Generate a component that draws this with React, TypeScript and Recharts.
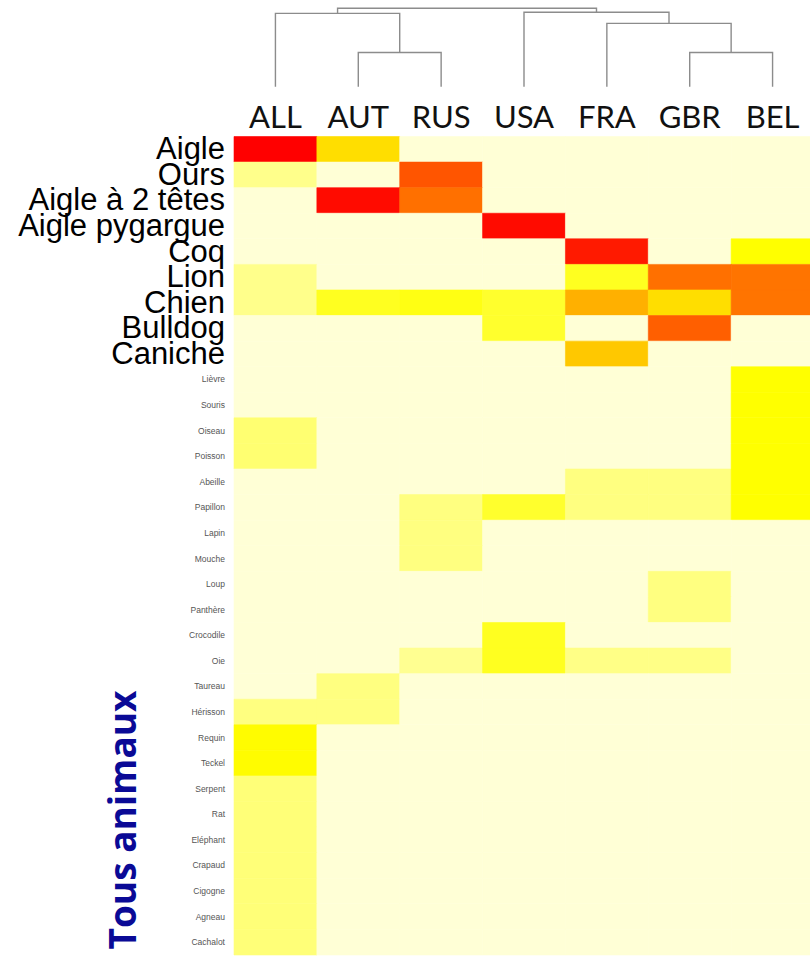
import React from 'react';
import { BarChart, Bar, Cell, XAxis, YAxis, Label, LineChart, Line } from 'recharts';

// column order as left by the clustering
const COUNTRIES = ['ALL', 'AUT', 'RUS', 'USA', 'FRA', 'GBR', 'BEL'];

const ANIMALS = [
  'Aigle', 'Ours', 'Aigle à 2 têtes', 'Aigle pygargue', 'Coq', 'Lion', 'Chien', 'Bulldog', 'Caniche',
  'Lièvre', 'Souris', 'Oiseau', 'Poisson', 'Abeille', 'Papillon', 'Lapin', 'Mouche', 'Loup',
  'Panthère', 'Crocodile', 'Oie', 'Taureau', 'Hérisson', 'Requin', 'Teckel', 'Serpent', 'Rat',
  'Eléphant', 'Crapaud', 'Cigogne', 'Agneau', 'Cachalot',
];

// the first rows are labelled in large type
const BIG_LABELS = 9;

// intensity per animal (0-100), one list per country, same order as ANIMALS
const ALL = [100, 13, 0, 0, 0, 13, 13, 0, 0, 0, 0, 17, 17, 0, 0, 0, 0, 0, 0, 0, 0, 0, 15, 34, 34, 16, 16, 16, 16, 16, 16, 16];
const AUT = [45, 0, 97, 0, 0, 0, 28, 0, 0, 0, 0, 0, 0, 0, 0, 0, 0, 0, 0, 0, 0, 15, 15, 0, 0, 0, 0, 0, 0, 0, 0, 0];
const RUS = [0, 83, 75, 0, 0, 0, 30, 0, 0, 0, 0, 0, 0, 0, 15, 15, 15, 0, 0, 0, 12, 0, 0, 0, 0, 0, 0, 0, 0, 0, 0, 0];
const USA = [0, 0, 0, 97, 0, 0, 26, 26, 0, 0, 0, 0, 0, 0, 26, 0, 0, 0, 0, 28, 28, 0, 0, 0, 0, 0, 0, 0, 0, 0, 0, 0];
const FRA = [0, 0, 0, 0, 93, 28, 60, 0, 50, 0, 0, 0, 0, 15, 15, 0, 0, 0, 0, 0, 14, 0, 0, 0, 0, 0, 0, 0, 0, 0, 0, 0];
const GBR = [0, 0, 0, 0, 0, 75, 45, 80, 0, 0, 0, 0, 0, 15, 15, 0, 0, 15, 15, 0, 14, 0, 0, 0, 0, 0, 0, 0, 0, 0, 0, 0];
const BEL = [0, 0, 0, 0, 33, 74, 74, 0, 0, 33, 33, 33, 33, 33, 33, 0, 0, 0, 0, 0, 0, 0, 0, 0, 0, 0, 0, 0, 0, 0, 0, 0];

const COLUMNS = [ALL, AUT, RUS, USA, FRA, GBR, BEL];

// dendrogram merges: left child, right child, height (n<k> = k-th merge)
const MERGE_LEFT = ['AUT', 'GBR', 'FRA', 'ALL', 'USA', 'n3'];
const MERGE_RIGHT = ['RUS', 'BEL', 'n1', 'n0', 'n2', 'n4'];
const MERGE_HEIGHT = [34, 34, 63, 73, 74, 78];

// heat palette, light cream -> yellow -> orange -> red
const STOPS: [number, number[]][] = [
  [0, [255, 255, 214]],
  [15, [255, 255, 128]],
  [25, [255, 255, 51]],
  [33, [255, 255, 0]],
  [45, [255, 222, 0]],
  [50, [255, 200, 0]],
  [60, [255, 176, 0]],
  [75, [255, 112, 0]],
  [83, [255, 85, 0]],
  [93, [255, 26, 0]],
  [100, [255, 0, 0]],
];

function heat(v: number) {
  for (let i = 1; i < STOPS.length; i++) {
    const [v1, c1] = STOPS[i];
    const [v0, c0] = STOPS[i - 1];
    if (v <= v1) {
      const t = (v - v0) / (v1 - v0);
      const c = c0.map((a, k) => Math.round(a + (c1[k] - a) * t));
      return `rgb(${c[0]},${c[1]},${c[2]})`;
    }
  }
  return 'rgb(255,0,0)';
}

const WIDTH = 814;
const HEIGHT = 960;
const LABEL_W = 234;
const SANS = "'Liberation Sans', Arial, sans-serif";

// one stacked segment per animal in each country column
const barData = COUNTRIES.map((c) => {
  const row: Record<string, string | number> = { country: c };
  ANIMALS.forEach((_, i) => {
    row[`r${i}`] = 1;
  });
  return row;
});

// dendrogram segments built from the merge lists
function buildLinks() {
  const pos: Record<string, { x: number; h: number }> = {};
  COUNTRIES.forEach((c, i) => {
    pos[c] = { x: i + 0.5, h: 0 };
  });
  return MERGE_LEFT.map((l, k) => {
    const a = pos[l];
    const b = pos[MERGE_RIGHT[k]];
    const h = MERGE_HEIGHT[k];
    pos[`n${k}`] = { x: (a.x + b.x) / 2, h };
    return [
      { x: a.x, y: a.h },
      { x: a.x, y: h },
      { x: b.x, y: h },
      { x: b.x, y: b.h },
    ];
  });
}

const links = buildLinks();

const CountryTick = (props: any) => {
  const { x, y, payload } = props;
  return (
    <text x={x} y={y} dy={-9} textAnchor="middle" fontFamily="Lato, 'Open Sans', sans-serif" fontSize={31} fill="#111">
      {payload.value}
    </text>
  );
};

const AnimalTick = (props: any) => {
  const { x, y, payload } = props;
  const i = Math.floor(payload.value);
  const big = i < BIG_LABELS;
  return (
    <text
      x={x}
      y={y}
      dy={big ? 10 : 3}
      textAnchor="end"
      fontFamily={SANS}
      fontSize={big ? 31 : 8.5}
      fill={big ? '#000' : '#555'}
    >
      {ANIMALS[i]}
    </text>
  );
};

const AxisTitle = () => (
  <text
    x={136}
    y={820}
    transform="rotate(-90 136 820)"
    textAnchor="middle"
    fontFamily="'Open Sans', Lato, sans-serif"
    fontWeight="bold"
    fontSize={37}
    fill="#0a0a96"
  >
    Tous animaux
  </text>
);

export default function App() {
  const rowTicks = ANIMALS.map((_, i) => i + 0.5);

  return (
    <div style={{ position: 'absolute', left: 0, top: 0, width: 810, height: HEIGHT, overflow: 'hidden', background: '#fff' }}>
      <div style={{ position: 'absolute', left: 0, top: 0 }}>
        <BarChart
          width={WIDTH}
          height={HEIGHT}
          data={barData}
          margin={{ top: 96, right: 0, bottom: 5, left: 0 }}
          barCategoryGap={0}
          barGap={0}
        >
          <XAxis
            dataKey="country"
            orientation="top"
            height={40.5}
            axisLine={false}
            tickLine={false}
            tickSize={0}
            tickMargin={0}
            interval={0}
            tick={<CountryTick />}
          />
          <YAxis
            type="number"
            domain={[0, ANIMALS.length]}
            reversed
            ticks={rowTicks}
            interval={0}
            width={LABEL_W}
            axisLine={false}
            tickLine={false}
            tickSize={0}
            tickMargin={9}
            tick={<AnimalTick />}
          >
            <Label content={<AxisTitle />} />
          </YAxis>
          {ANIMALS.map((_, i) => (
            <Bar key={i} dataKey={`r${i}`} stackId="a" isAnimationActive={false}>
              {COUNTRIES.map((c, j) => (
                <Cell key={c} fill={heat(COLUMNS[j][i])} stroke={heat(COLUMNS[j][i])} strokeWidth={0.6} />
              ))}
            </Bar>
          ))}
        </BarChart>
      </div>
      <div style={{ position: 'absolute', left: 0, top: 0 }}>
        <LineChart width={WIDTH} height={90} margin={{ top: 8.3, right: 0, bottom: 3.3, left: LABEL_W }}>
          <XAxis type="number" dataKey="x" domain={[0, COUNTRIES.length]} hide />
          <YAxis type="number" domain={[0, MERGE_HEIGHT[MERGE_HEIGHT.length - 1]]} hide />
          {links.map((d, k) => (
            <Line
              key={k}
              data={d}
              dataKey="y"
              type="linear"
              stroke="#8c8c8c"
              strokeWidth={1.4}
              dot={false}
              isAnimationActive={false}
            />
          ))}
        </LineChart>
      </div>
    </div>
  );
}
